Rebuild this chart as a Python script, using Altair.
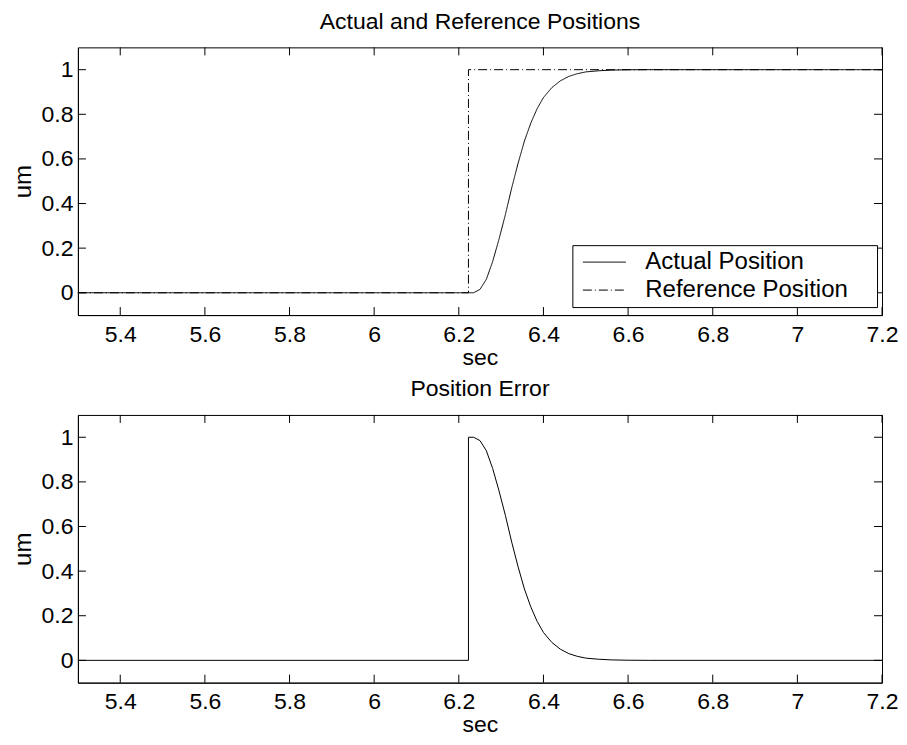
import altair as alt
import pandas as pd

FONT = "Liberation Sans"

x_ticks = [5.4, 5.6, 5.8, 6.0, 6.2, 6.4, 6.6, 6.8, 7.0, 7.2]
y_ticks = [0, 0.2, 0.4, 0.6, 0.8, 1.0]

# Actual position
t_actual = [5.3, 6.2228, 6.235, 6.25, 6.265, 6.28, 6.295, 6.31, 6.325, 6.34, 6.355,
            6.37, 6.385, 6.40, 6.42, 6.44, 6.46, 6.48, 6.50, 6.53, 6.56, 6.60, 6.65, 7.2]
actual = [0.0, 0.0, 0.0, 0.015, 0.06, 0.14, 0.24, 0.35, 0.47, 0.58, 0.68,
          0.76, 0.825, 0.875, 0.92, 0.95, 0.97, 0.982, 0.99, 0.995, 0.998, 0.9995, 1.0, 1.0]

# Reference position
t_ref = [5.3, 6.2228, 6.2228, 7.2]
ref = [0.0, 0.0, 1.0, 1.0]

# Position error
t_err = [5.3, 6.2228, 6.2228, 6.235, 6.25, 6.265, 6.28, 6.295, 6.31, 6.325, 6.34, 6.355,
         6.37, 6.385, 6.40, 6.42, 6.44, 6.46, 6.48, 6.50, 6.53, 6.56, 6.60, 6.65, 7.2]
err = [0.0, 0.0, 1.0, 1.0, 0.985, 0.94, 0.86, 0.76, 0.65, 0.53, 0.42, 0.32,
       0.24, 0.175, 0.125, 0.08, 0.05, 0.03, 0.018, 0.01, 0.005, 0.002, 0.0005, 0.0, 0.0]

series_names = ["Actual Position", "Reference Position"]

W, H = 805, 268

top_df = pd.concat([
    pd.DataFrame({"t": t_actual, "v": actual, "series": series_names[0], "i": range(len(t_actual))}),
    pd.DataFrame({"t": t_ref, "v": ref, "series": series_names[1], "i": range(len(t_ref))}),
])
err_df = pd.DataFrame({"t": t_err, "v": err, "i": range(len(t_err))})
xt_df = pd.DataFrame({"t": x_ticks})
yt_df = pd.DataFrame({"v": y_ticks})

xscale = alt.Scale(domain=[5.3, 7.2], nice=False, zero=False)
yscale = alt.Scale(domain=[-0.1, 1.1], nice=False, zero=False)

xaxis = alt.Axis(values=x_ticks, format="~g", title="sec", grid=False, ticks=False, tickSize=0,
                 labelFontSize=23, titleFontSize=23, labelFont=FONT, titleFont=FONT,
                 titleFontWeight="normal", labelColor="black", titleColor="black",
                 domainColor="black", labelPadding=8, titlePadding=0, labelFlush=False)
yaxis = alt.Axis(values=y_ticks, format="~g", title="um", grid=False, ticks=False, tickSize=0,
                 labelFontSize=23, titleFontSize=24, labelFont=FONT, titleFont=FONT,
                 titleFontWeight="normal", labelColor="black", titleColor="black",
                 domainColor="black", labelPadding=5, titlePadding=6, labelFlush=False)


def tick_layers():
    xb = alt.Chart(xt_df).mark_rule(color="black", strokeWidth=1).encode(
        x=alt.X("t:Q", scale=xscale, axis=xaxis), y=alt.value(H), y2=alt.value(H - 8))
    xtp = alt.Chart(xt_df).mark_rule(color="black", strokeWidth=1).encode(
        x=alt.X("t:Q", scale=xscale, axis=xaxis), y=alt.value(0), y2=alt.value(8))
    yl = alt.Chart(yt_df).mark_rule(color="black", strokeWidth=1).encode(
        y=alt.Y("v:Q", scale=yscale, axis=yaxis), x=alt.value(0), x2=alt.value(8))
    yr = alt.Chart(yt_df).mark_rule(color="black", strokeWidth=1).encode(
        y=alt.Y("v:Q", scale=yscale, axis=yaxis), x=alt.value(W), x2=alt.value(W - 8))
    return [xb, xtp, yl, yr]


top_lines = alt.Chart(top_df).mark_line(color="black", strokeWidth=1).encode(
    x=alt.X("t:Q", scale=xscale, axis=xaxis),
    y=alt.Y("v:Q", scale=yscale, axis=yaxis),
    order="i:Q",
    strokeDash=alt.StrokeDash("series:N",
                              scale=alt.Scale(domain=series_names, range=[[1, 0], [9, 3, 1, 3]]),
                              legend=alt.Legend(title=".", titleOrient="right", titleColor="white",
                                                titleFontSize=4, titlePadding=22,
                                                orient="none", legendX=495, legendY=198,
                                                fillColor="white", strokeColor="black", padding=5,
                                                symbolOffset=15, symbolType="M-2,0H2", symbolSize=462,
                                                symbolStrokeWidth=1, symbolStrokeColor="black",
                                                labelFontSize=24, labelFont=FONT, labelColor="black",
                                                labelOffset=29, rowPadding=4, labelLimit=400)),
)

top = alt.layer(top_lines, *tick_layers()).properties(
    width=W, height=H,
    title=alt.TitleParams("Actual and Reference Positions", fontSize=23, font=FONT,
                          fontWeight="normal", color="black", offset=13),
)

err_line = alt.Chart(err_df).mark_line(color="black", strokeWidth=1).encode(
    x=alt.X("t:Q", scale=xscale, axis=xaxis),
    y=alt.Y("v:Q", scale=yscale, axis=yaxis),
    order="i:Q",
)

bottom = alt.layer(err_line, *tick_layers()).properties(
    width=W, height=H,
    title=alt.TitleParams("Position Error", fontSize=23, font=FONT,
                          fontWeight="normal", color="black", offset=13),
)

chart = alt.vconcat(top, bottom, spacing=8).configure_view(
    stroke="black", strokeWidth=1
).properties(padding={"left": 2, "top": 2, "right": 0, "bottom": 0})

chart.save("out.html", embed_options={"renderer": "svg", "actions": False})
